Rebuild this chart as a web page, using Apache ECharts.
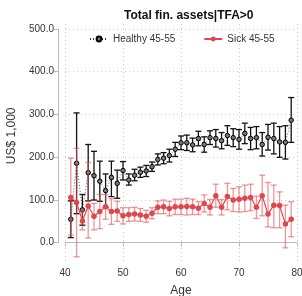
<!DOCTYPE html>
<html><head><meta charset="utf-8">
<script src="https://cdn.jsdelivr.net/npm/echarts@6/dist/echarts.min.js"></script>
<style>html,body{margin:0;padding:0;background:#fff}#c{width:302px;height:296px}</style>
</head><body><div id="c"></div>
<script>
const ages = [41,42,43,44,45,46,47,48,49,50,51,52,53,54,55,56,57,58,59,60,61,62,63,64,65,66,67,68,69,70,71,72,73,74,75,76,77,78,79];
const healthy = [55,186,77,164,157,144,122,153,139,169,147,158,165,168,178,195,198,204,219,234,234,229,244,230,246,244,239,251,246,242,256,244,246,230,247,244,236,235,287];
const healthyLow = [12,68,41,98,100,97,83,108,104,147,135,145,153,155,167,182,185,189,202,218,216,213,227,212,230,224,220,228,225,219,232,218,220,203,217,208,200,196,235];
const healthyHigh = [98,304,113,230,214,191,161,191,170,190,161,172,177,181,189,208,211,219,235,250,252,245,261,248,262,265,258,274,267,265,280,270,272,258,277,280,272,274,340];
const sick = [106,94,51,86,62,73,84,73,74,63,66,67,65,62,69,83,84,80,84,84,85,84,81,92,83,110,83,108,100,102,104,106,83,110,67,88,87,44,55];
const sickLow = [18,-33,30,11,30,33,55,43,50,44,50,51,50,48,56,68,68,63,66,66,65,66,66,72,65,83,65,77,73,72,73,75,57,63,37,35,35,-12,14];
const sickHigh = [198,221,75,188,92,113,113,103,97,82,82,83,80,76,82,98,100,97,102,102,104,102,96,112,101,137,101,139,127,131,135,137,109,158,141,135,119,88,96];
const yTicks = [0,100,200,300,400,500];
const xTicks = [40,50,60,70,80];

const FONT = 'Liberation Sans';
function errBars(color, width, cap) {
  return function (params, api) {
    const x = api.value(0), lo = api.value(1), hi = api.value(2);
    const a = api.coord([x, lo]), b = api.coord([x, hi]);
    const st = { stroke: color, lineWidth: width };
    return { type: 'group', children: [
      { type: 'line', shape: { x1: a[0], y1: a[1], x2: b[0], y2: b[1] }, style: st },
      { type: 'line', shape: { x1: a[0]-cap, y1: a[1], x2: a[0]+cap, y2: a[1] }, style: st },
      { type: 'line', shape: { x1: b[0]-cap, y1: b[1], x2: b[0]+cap, y2: b[1] }, style: st }
    ]};
  };
}
const chart = echarts.init(document.getElementById('c'), null, { renderer: 'canvas' });
const gridL = 65, gridR = 5;
chart.setOption({
  animation: false,
  textStyle: { fontFamily: FONT },
  title: { text: 'Total fin. assets|TFA>0', left: 119, top: 5,
    textStyle: { fontFamily: FONT, fontSize: 12, fontWeight: 'bold', color: '#111' } },
  legend: { left: 84, top: 29, itemGap: 28, itemWidth: 18, itemHeight: 6,
    textStyle: { fontFamily: FONT, fontSize: 10, color: '#333' },
    data: ['Healthy 45-55', 'Sick 45-55'] },
  grid: [
    { left: gridL, right: gridR, top: 24, bottom: 33, containLabel: false, outerBoundsMode: 'none' },
    { left: gridL, right: gridR, top: 29, bottom: 53.3, containLabel: false, outerBoundsMode: 'none' }
  ],
  xAxis: [
    { type: 'value', gridIndex: 0, min: 40, max: 80, interval: 10,
      name: 'Age', nameLocation: 'middle', nameGap: 22,
      nameTextStyle: { fontFamily: FONT, fontSize: 12, color: '#333' },
      axisLine: { lineStyle: { color: '#bbb' } },
      axisTick: { length: 4, lineStyle: { color: '#bbb' } },
      axisLabel: { fontSize: 10, color: '#333', margin: 5 },
      splitLine: { show: true, lineStyle: { color: '#ccc', type: [1, 3] } } },
    { type: 'value', gridIndex: 1, min: 40, max: 80, show: false }
  ],
  yAxis: [
    { type: 'value', gridIndex: 0, min: -47.5, max: 512.2, show: false, splitLine: { show: false } },
    { type: 'value', gridIndex: 1, min: 0, max: 500, interval: 100, offset: 7,
      name: 'US$ 1,000', nameLocation: 'middle', nameGap: 40,
      nameTextStyle: { fontFamily: FONT, fontSize: 12, color: '#333' },
      axisLine: { show: true, lineStyle: { color: '#bbb' } },
      axisTick: { show: true, length: 4, lineStyle: { color: '#bbb' } },
      axisLabel: { fontSize: 10, color: '#333', margin: 4, formatter: v => v.toFixed(1) },
      splitLine: { show: true, lineStyle: { color: '#ccc', type: [1, 3] } } }
  ],
  series: [
    { type: 'custom', xAxisIndex: 0, yAxisIndex: 0, renderItem: errBars('#111', 1.3, 3),
      data: ages.map((a, i) => [a, healthyLow[i], healthyHigh[i]]), z: 2 },
    { name: 'Healthy 45-55', type: 'line', xAxisIndex: 0, yAxisIndex: 0,
      data: ages.map((a, i) => [a, healthy[i]]),
      symbol: 'circle', symbolSize: 4.5, showSymbol: true,
      lineStyle: { color: '#333', width: 0.8, type: [1, 2] },
      itemStyle: { color: '#777', borderColor: '#000', borderWidth: 1 }, z: 3 },
    { type: 'custom', xAxisIndex: 0, yAxisIndex: 0, renderItem: errBars('rgba(226,80,86,0.6)', 1.3, 3),
      data: ages.map((a, i) => [a, sickLow[i], sickHigh[i]]), z: 4 },
    { name: 'Sick 45-55', type: 'line', xAxisIndex: 0, yAxisIndex: 0,
      data: ages.map((a, i) => [a, sick[i]]),
      symbol: 'circle', symbolSize: 5.5, showSymbol: true,
      lineStyle: { color: '#e0474c', width: 1.2 },
      itemStyle: { color: '#e0474c' }, z: 5 }
  ]
});
</script></body></html>
